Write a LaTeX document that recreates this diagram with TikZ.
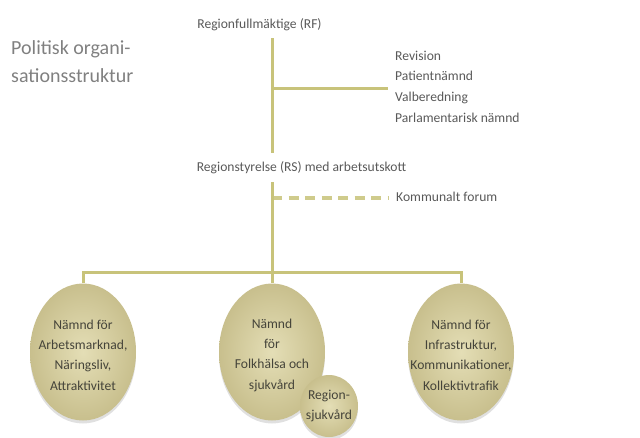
\documentclass[tikz,border=0pt]{standalone}
\usepackage{fontspec}
\setmainfont{Carlito}
\usetikzlibrary{shapes.geometric,shadows}
\definecolor{linecol}{HTML}{C8C37A}
\definecolor{dashcol}{HTML}{CFCB8C}
\definecolor{txtgray}{HTML}{595959}
\definecolor{titlegray}{HTML}{808080}
\definecolor{bodytxt}{HTML}{45443A}
\definecolor{ellin}{HTML}{E4DEB6}
\definecolor{ellout}{HTML}{C8BF8D}
\tikzset{
  lbl/.style={text=txtgray, font=\fontsize{13.6}{20.7}\selectfont, inner sep=0pt},
  ttl/.style={text=titlegray, font=\fontsize{20}{28}\selectfont, inner sep=0pt, align=left},
  body/.style={ellipse, inner sep=0pt, minimum width=106pt, minimum height=137pt,
    inner color=ellin, outer color=ellout,
    drop shadow={shadow xshift=0pt, shadow yshift=-3pt, opacity=0.12, fill=black}},
  small/.style={body, minimum width=58pt, minimum height=62pt},
  btext/.style={text=bodytxt, font=\fontsize{13.6}{20.3}\selectfont, inner sep=0pt, align=center},
  conn/.style={draw=linecol, line width=3pt},
  dconn/.style={draw=dashcol, line width=4pt, dash pattern=on 10pt off 6.5pt},
}
\begin{document}
\begin{tikzpicture}[x=1pt,y=-1pt]
\useasboundingbox (0,0) rectangle (640,437);
% titles and labels
\node[ttl, anchor=west] (title) at (11,62) {Politisk organi-\\sationsstruktur};
\node[lbl] (RF) at (259.5,25) {Regionfullmäktige (RF)};
\node[lbl, anchor=west, align=left] (list) at (395,86.5) {Revision\\Patientnämnd\\Valberedning\\Parlamentarisk nämnd};
\node[lbl] (RS) at (301.5,168) {Regionstyrelse (RS) med arbetsutskott};
\node[lbl, anchor=west] (KF) at (396,197) {Kommunalt forum};
% junction coordinates
\coordinate (v0) at (272,38);
\coordinate (v1) at (272,153);
\coordinate (v2) at (272,182);
\coordinate (jr) at (272,88);
\coordinate (br) at (388,88);
\coordinate (jk) at (272,198);
\coordinate (bk) at (388,198);
\coordinate (bar) at (272,272);
% bodies
\node[body] (L) at (83,352) {};
\node[body] (M) at (272,352) {};
\node[body] (R) at (461,352) {};
\node[small] (S) at (329,406) {};
\node[btext] (Lt) at (83,355) {Nämnd för\\Arbetsmarknad,\\Näringsliv,\\Attraktivitet};
\node[btext] (Mt) at (272,355) {Nämnd\\för\\Folkhälsa och\\sjukvård};
\node[btext] (Rt) at (461,355) {Nämnd för\\Infrastruktur,\\Kommunikationer,\\Kollektivtrafik};
\node[btext] (St) at (S) {Region-\\sjukvård};
% connectors
\draw[conn] (v0) -- (v1);
\draw[conn] (jr) -- (br);
\draw[dconn] (jk) -- (bk);
\draw[conn] (v2) -- (M.north);
\draw[conn] (L.north) |- (bar) -| (R.north);
\end{tikzpicture}
\end{document}
